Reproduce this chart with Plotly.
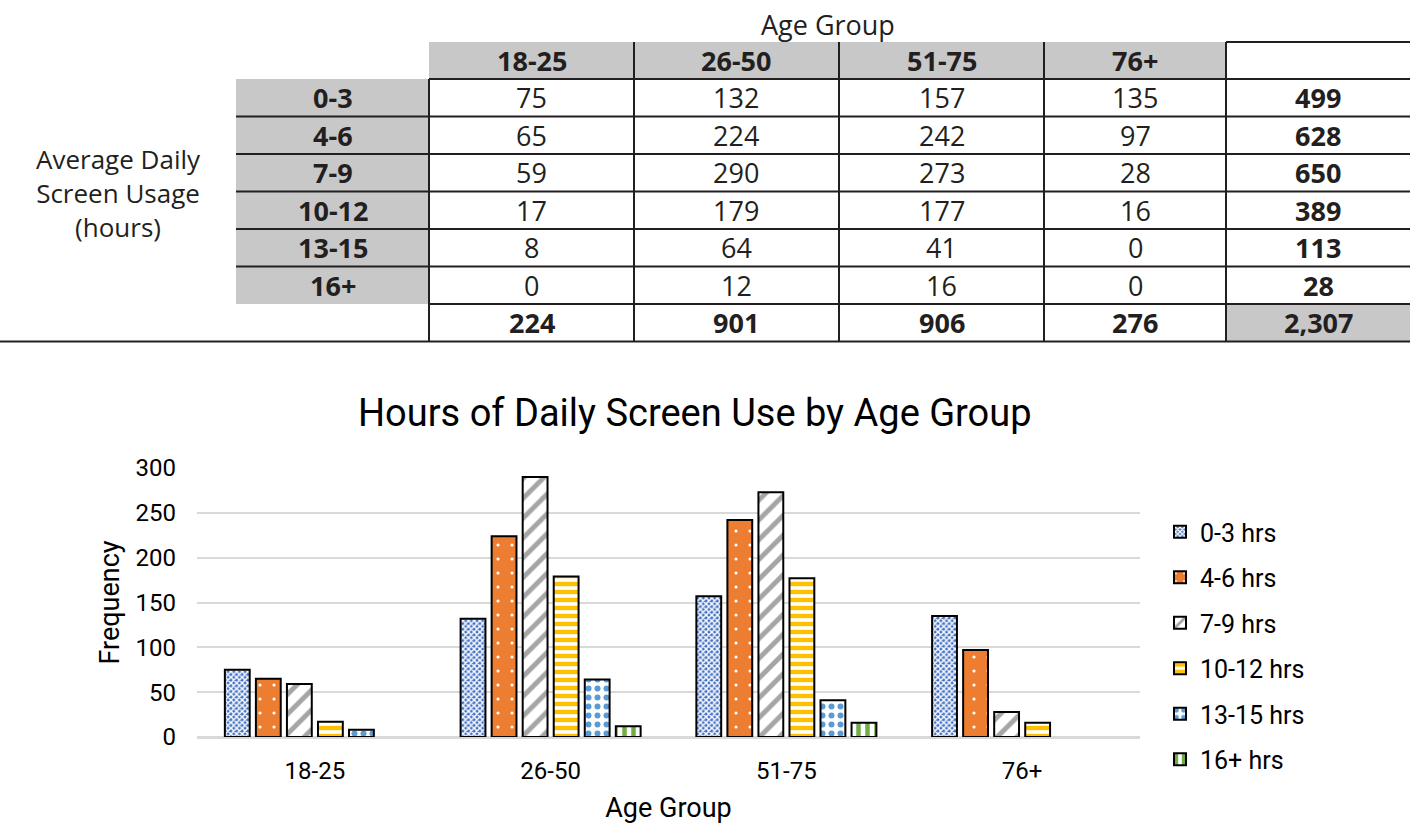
import plotly.graph_objects as go

# ---------------- data ----------------
age_groups = ["18-25", "26-50", "51-75", "76+"]
hour_groups = ["0-3", "4-6", "7-9", "10-12", "13-15", "16+"]
counts_0_3 = [75, 132, 157, 135]
counts_4_6 = [65, 224, 242, 97]
counts_7_9 = [59, 290, 273, 28]
counts_10_12 = [17, 179, 177, 16]
counts_13_15 = [8, 64, 41, 0]
counts_16_plus = [0, 12, 16, 0]
series_names = ["0-3 hrs", "4-6 hrs", "7-9 hrs", "10-12 hrs", "13-15 hrs", "16+ hrs"]
y_ticks = [0, 50, 100, 150, 200, 250, 300]
row_title_lines = ["Average Daily", "Screen Usage", "(hours)"]

rows = [counts_0_3, counts_4_6, counts_7_9, counts_10_12, counts_13_15, counts_16_plus]
row_totals = [sum(r) for r in rows]
col_totals = [sum(r[i] for r in rows) for i in range(len(age_groups))]
grand_total = sum(row_totals)

# ---------------- layout constants ----------------
W, H = 1410, 838
def px(x):
    return x / W
def py(y):
    return 1 - y / H

TXT = "#231F20"
GREY = "#C8C8C8"
LINE = "#231F20"
TFONT = "Open Sans"
CFONT = "Roboto"
TSIZE = 27

col_edges = [236, 429, 634, 839, 1044, 1226, 1410]
row_edges = [42, 79, 116.5, 154, 191.5, 229, 266.5, 304, 341.5]

styles = [
    dict(shape="x", bgcolor="#4472C4", fgcolor="#FFFFFF", size=4, solidity=0.6),
    dict(shape=".", bgcolor="#ED7D31", fgcolor="#FFFFFF", size=14, solidity=0.04),
    dict(shape="/", bgcolor="#FFFFFF", fgcolor="#A5A5A5", size=14, solidity=0.35),
    dict(shape="-", bgcolor="#FFFFFF", fgcolor="#FFC000", size=8, solidity=0.55),
    dict(shape=".", bgcolor="#FFFFFF", fgcolor="#5B9BD5", size=9, solidity=0.35),
    dict(shape="|", bgcolor="#FFFFFF", fgcolor="#70AD47", size=9, solidity=0.5),
]

fig = go.Figure()
for i, (name, vals) in enumerate(zip(series_names, rows)):
    st = styles[i]
    fig.add_trace(go.Bar(
        x=age_groups,
        y=[v if v != 0 else None for v in vals],
        name=name,
        legendgroup=name,
        marker=dict(
            color=st["bgcolor"],
            line=dict(color="#000000", width=2),
            pattern=dict(shape=st["shape"], bgcolor=st["bgcolor"], fgcolor=st["fgcolor"],
                         fgopacity=1, size=st["size"], solidity=st["solidity"], fillmode="replace"),
        ),
        hoverinfo="x+y+name",
    ))

shapes = []
annotations = []

def rect(x0, y0, x1, y1, color):
    shapes.append(dict(type="rect", xref="paper", yref="paper",
                       x0=px(x0), x1=px(x1), y0=py(y1), y1=py(y0),
                       fillcolor=color, line=dict(width=0), layer="above"))

def hline(y, x0, x1):
    shapes.append(dict(type="line", xref="paper", yref="paper",
                       x0=px(x0), x1=px(x1), y0=py(y), y1=py(y),
                       line=dict(color=LINE, width=2), layer="above"))

def vline(x, y0, y1):
    shapes.append(dict(type="line", xref="paper", yref="paper",
                       x0=px(x), x1=px(x), y0=py(y0), y1=py(y1),
                       line=dict(color=LINE, width=2), layer="above"))

def text(x, y, s, bold=False, size=TSIZE, family=TFONT):
    annotations.append(dict(xref="paper", yref="paper", x=px(x), y=py(y),
                            text=f"<b>{s}</b>" if bold else s, showarrow=False,
                            xanchor="center", yanchor="middle", align="center",
                            font=dict(family=family, size=size, color=TXT)))

# grey fills
rect(col_edges[1], row_edges[0], col_edges[5], row_edges[1], GREY)
rect(col_edges[0], row_edges[1], col_edges[1], row_edges[7], GREY)
rect(col_edges[5], row_edges[7], col_edges[6], row_edges[8], GREY)

# lines
hline(row_edges[0], col_edges[5], col_edges[6])
hline(row_edges[1], col_edges[1], col_edges[6])
for y in row_edges[2:7]:
    hline(y, col_edges[0], col_edges[6])
hline(row_edges[7], col_edges[1], col_edges[6])
hline(row_edges[8], 0, W)
vline(col_edges[1], row_edges[1], row_edges[8])
for x in col_edges[2:6]:
    vline(x, row_edges[0], row_edges[8])

def cx(i):
    return (col_edges[i] + col_edges[i + 1]) / 2
def cy(j):
    return (row_edges[j] + row_edges[j + 1]) / 2

# table text
text((col_edges[1] + col_edges[5]) / 2, 24, "Age Group")
text(118, 193, "<br>".join(row_title_lines), size=26)
for i, a in enumerate(age_groups):
    text(cx(i + 1), cy(0), a, bold=True)
for j, (h, vals) in enumerate(zip(hour_groups, rows)):
    text(cx(0), cy(j + 1), h, bold=True)
    for i, v in enumerate(vals):
        text(cx(i + 1), cy(j + 1), f"{v:,}")
    text(cx(5), cy(j + 1), f"{row_totals[j]:,}", bold=True)
for i, t in enumerate(col_totals):
    text(cx(i + 1), cy(7), f"{t:,}", bold=True)
text(cx(5), cy(7), f"{grand_total:,}", bold=True)

# chart title
annotations.append(dict(xref="paper", yref="paper", x=px(695), y=py(413),
                        text="Hours of Daily Screen Use by Age Group", showarrow=False,
                        xanchor="center", yanchor="middle",
                        font=dict(family=CFONT, size=38, color="#000000")))

fig.update_layout(
    width=W, height=H,
    margin=dict(l=0, r=0, t=0, b=0, autoexpand=False),
    paper_bgcolor="white", plot_bgcolor="white",
    font=dict(family=CFONT, size=24, color="#000000"),
    barmode="group", bargap=0.21, bargroupgap=0.2,
    shapes=shapes, annotations=annotations,
    showlegend=True,
    legend=dict(x=px(1160), y=py(509), xanchor="left", yanchor="top",
                font=dict(family=CFONT, size=25, color="#000000"),
                tracegroupgap=10, bgcolor="rgba(0,0,0,0)"),
    xaxis=dict(domain=[px(197), px(1140)], range=[-0.5, 3.5], type="category",
               showgrid=False, showline=True, linecolor="#D9D9D9", linewidth=2,
               ticks="", ticklabelstandoff=11,
               tickfont=dict(family=CFONT, size=24, color="#000000"),
               title=dict(text="Age Group", font=dict(family=CFONT, size=27, color="#000000"), standoff=14),
               fixedrange=True),
    yaxis=dict(domain=[py(737), py(468)], range=[0, 300], tickvals=y_ticks,
               showgrid=True, gridcolor="#D9D9D9", gridwidth=2,
               zeroline=True, zerolinecolor="#D9D9D9", zerolinewidth=2,
               showline=False, ticks="", ticklabelstandoff=20,
               tickfont=dict(family=CFONT, size=24, color="#000000"),
               title=dict(text="Frequency", font=dict(family=CFONT, size=27, color="#000000"), standoff=8),
               fixedrange=True),
)

fig.write_html("out.html")
